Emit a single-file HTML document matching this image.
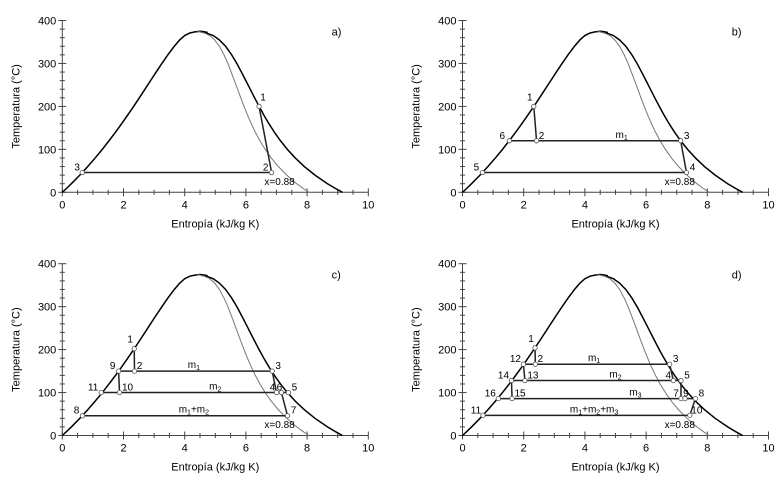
<!DOCTYPE html>
<html><head><meta charset="utf-8"><style>
html,body{margin:0;padding:0;background:#fff;}
svg{display:block;font-family:"Liberation Sans",Arial,sans-serif;}
</style></head><body>
<svg id="s" width="778" height="483" viewBox="0 0 778 483" xmlns="http://www.w3.org/2000/svg"></svg>
<script>
const sat=[[0,0,9.156],[10,0.151,8.900],[20,0.2966,8.666],[40,0.5725,8.257],[60,0.8312,7.909],[80,1.075,7.612],[100,1.307,7.355],[120,1.527,7.130],[140,1.739,6.930],[160,1.943,6.750],[180,2.139,6.585],[200,2.331,6.431],[220,2.518,6.284],[240,2.702,6.141],[260,2.884,5.998],[280,3.067,5.853],[300,3.255,5.704],[320,3.449,5.536],[340,3.660,5.336],[355,3.84,5.13],[365,4.00,4.93],[371,4.17,4.70],[373.5,4.33,4.52],[374,4.41,4.41]];
let out='';
function panel(ox,oy,lab,pts,lines,labels){
 const sx=30.6, sy=0.4295;
 const X=s=>ox+s*sx, Y=t=>oy-t*sy;
 // axes
 out+=`<line x1="${X(0)}" y1="${Y(0)}" x2="${X(10)}" y2="${Y(0)}" stroke="#444" stroke-width="1"/>`;
 out+=`<line x1="${X(0)}" y1="${Y(0)}" x2="${X(0)}" y2="${Y(400)}" stroke="#444" stroke-width="1"/>`;
 for(let i=0;i<=20;i++){const x=X(i*0.5);const m=i%4==0;out+=`<line x1="${x}" y1="${Y(0)-(m?4:2.5)}" x2="${x}" y2="${Y(0)+(m?4:2.5)}" stroke="#444"/>`;
  if(m)out+=`<text x="${x}" y="${Y(0)+16}" font-size="11" text-anchor="middle">${i/2}</text>`;}
 for(let i=0;i<=20;i++){const y=Y(i*20);const m=i%5==0;out+=`<line x1="${X(0)-(m?4:2.5)}" y1="${y}" x2="${X(0)+(m?4:2.5)}" y2="${y}" stroke="#444"/>`;
  if(m)out+=`<text x="${X(0)-6}" y="${y+4}" font-size="11" text-anchor="end">${i*20}</text>`;}
 out+=`<text x="${X(5)}" y="${Y(0)+35}" font-size="11" text-anchor="middle">Entropía (kJ/kg K)</text>`;
 out+=`<text transform="translate(${X(0)-43},${Y(200)}) rotate(-90)" font-size="11" text-anchor="middle">Temperatura (°C)</text>`;
 out+=`<text x="${X(8.8)}" y="${Y(365)}" font-size="11">${lab}</text>`;
 // dome
 let d='M'+sat.map(r=>X(r[1])+','+Y(r[0])).join(' L');
 d+=' Q'+X(4.5)+','+Y(376.5)+' '+X(4.75)+','+Y(372);
 let v=sat.slice().reverse().map(r=>X(r[2])+','+Y(r[0]));
 d+=' L'+v.slice(1).join(' L');
 out+=`<path d="${d}" fill="none" stroke="#000" stroke-width="1.5"/>`;
 let g='M'+sat.slice().reverse().map(r=>X(r[1]+0.88*(r[2]-r[1]))+','+Y(r[0])).join(' L');
 out+=`<path d="${g}" fill="none" stroke="#777" stroke-width="1"/>`;
 out+=`<text x="${X(7.1)}" y="${Y(45)+12}" font-size="10" text-anchor="middle">x=0.88</text>`;
 for(const l of lines){const a=pts[l[0]],b=pts[l[1]];out+=`<line x1="${X(a[0])}" y1="${Y(a[1])}" x2="${X(b[0])}" y2="${Y(b[1])}" stroke="#222" stroke-width="1.5"/>`;}
 for(const k in pts){const p=pts[k];out+=`<circle cx="${X(p[0])}" cy="${Y(p[1])}" r="2.2" fill="#fff" stroke="#555" stroke-width="0.8"/>`;
  out+=`<text x="${X(p[0])+p[2]}" y="${Y(p[1])+p[3]}" font-size="10" text-anchor="middle">${k}</text>`;}
 for(const t of labels){out+=`<text x="${X(t[0])}" y="${Y(t[1])-3}" font-size="10" text-anchor="middle">${t[2]}<tspan font-size="7" dy="2">${t[3]||''}</tspan>${t[4]||''}</text>`;}
}
panel(62.3,192.3,'a)',{1:[6.43,200,4,-6],2:[6.84,46,-6,-2],3:[0.65,46,-5,-2]},[[1,2],[3,2]],[]);
panel(462.5,192.3,'b)',{1:[2.33,200,-4,-6],2:[2.42,120,5,-2],3:[7.13,120,6,-2],4:[7.32,46,6,-2],5:[0.65,46,-6,-2],6:[1.53,120,-7,-2]},[[1,2],[6,3],[3,4],[5,4]],[[5.2,120,'m','1']]);
panel(62.3,435.5,'c)',{1:[2.35,202,-4,-6],2:[2.36,150,5,-2],3:[6.86,150,6,-2],4:[7.0,100,-4,-2],5:[7.39,100,6,-2],6:[7.16,100,-2,-2],7:[7.36,46,6,-2],8:[0.66,46,-6,-2],9:[1.84,150,-6,-2],10:[1.87,100,8,-2],11:[1.27,100,-8,-2]},[[1,2],[9,3],[9,10],[11,5],[3,4],[6,7],[8,7]],[[4.3,150,'m','1'],[5.0,100,'m','2'],[4.3,46,'m','1','+m']]);
panel(462.5,435.5,'d)',{1:[2.37,204,-4,-6],2:[2.38,166,5,-2],3:[6.77,166,6,-2],4:[6.89,128,-5,-2],5:[7.14,128,6,-2],7:[7.14,86,-5,-2],8:[7.61,86,6,-2],9:[7.27,86,1,-2],10:[7.43,47,7,-2],11:[0.67,47,-7,-2],12:[1.99,166,-8,-2],13:[2.04,128,8,-2],14:[1.6,128,-8,-2],15:[1.62,86,8,-2],16:[1.17,86,-8,-2]},[[1,2],[12,3],[12,13],[14,5],[14,15],[16,8],[11,10],[3,4],[5,7],[8,10]],[[4.3,166,'m','1'],[5.0,128,'m','2'],[5.65,86,'m','3'],[4.3,47,'m','1','+m']]);
out=out.replace(/\+m<\/text>/g,'+m<tspan font-size="7" dy="2">2</tspan></text>');
document.getElementById('s').innerHTML=out;
// fix d) m1+m2+m3 label
const ts=[...document.querySelectorAll('text')].filter(t=>t.textContent.startsWith('m1+m2'));
if(ts.length>1){const t=ts[1];t.innerHTML='m<tspan font-size="7" dy="2">1</tspan><tspan dy="-2">+m</tspan><tspan font-size="7" dy="2">2</tspan><tspan dy="-2">+m</tspan><tspan font-size="7" dy="2">3</tspan>';}
const t0=ts[0];if(t0)t0.innerHTML='m<tspan font-size="7" dy="2">1</tspan><tspan dy="-2">+m</tspan><tspan font-size="7" dy="2">2</tspan>';
</script>
</body></html>
